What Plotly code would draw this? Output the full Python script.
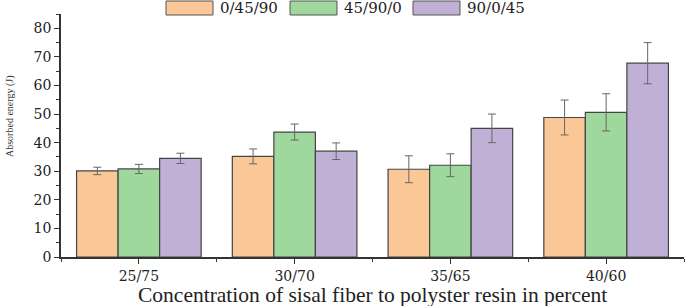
import plotly.graph_objects as go

categories = ["25/75", "30/70", "35/65", "40/60"]
series_names = ["0/45/90", "45/90/0", "90/0/45"]
s1_values = [30.1, 35.2, 30.7, 48.8]
s1_errors = [1.3, 2.6, 4.7, 6.1]
s2_values = [30.8, 43.7, 32.1, 50.6]
s2_errors = [1.6, 2.8, 4.0, 6.5]
s3_values = [34.5, 37.0, 45.0, 67.8]
s3_errors = [1.8, 2.9, 5.0, 7.2]
colors = ["#FAC896", "#9FD89C", "#C1B0D6"]
x_title = "Concentration of sisal fiber to polyster resin in percent"
y_title = "Absorbed energy (J)"

values = [s1_values, s2_values, s3_values]
errors = [s1_errors, s2_errors, s3_errors]
xpos = list(range(len(categories)))

fig = go.Figure()
for name, v, e, c in zip(series_names, values, errors, colors):
    fig.add_trace(go.Bar(
        x=xpos, y=v, name=name,
        marker=dict(color=c, line=dict(color="#444444", width=1.2)),
        error_y=dict(type="data", array=e, color="#666666", thickness=1, width=4),
        showlegend=False,
    ))

W, H = 685, 306
L, R, T, B = 61, 1, 14, 49
pw, ph = W - L - R, H - T - B

def px_x(px):
    return (px - L) / pw

def px_y(py):
    return (H - B - py) / ph

# custom legend with wide swatches
sw_left = [166, 290, 413]
for name, c, x0 in zip(series_names, colors, sw_left):
    fig.add_shape(type="rect", xref="paper", yref="paper",
                  x0=px_x(x0), x1=px_x(x0 + 47), y0=px_y(15), y1=px_y(1),
                  fillcolor=c, line=dict(color="#555555", width=1))
    fig.add_annotation(x=px_x(x0 + 52), y=px_y(8), xref="paper", yref="paper",
                       text=name, showarrow=False, xanchor="left", yanchor="middle",
                       font=dict(family="DejaVu Serif", size=15, color="#222222"))

fig.add_annotation(x=px_x(10), y=px_y(117), xref="paper", yref="paper",
                   text=y_title, showarrow=False, textangle=-90,
                   xanchor="center", yanchor="middle",
                   font=dict(family="Liberation Serif", size=10, color="#333333"))

fig.add_annotation(x=px_x(372), y=px_y(295), xref="paper", yref="paper",
                   text=x_title, showarrow=False,
                   xanchor="center", yanchor="middle",
                   font=dict(family="Liberation Serif", size=21.5, color="#222222"))

fig.update_layout(
    width=W, height=H,
    margin=dict(l=L, r=R, t=T, b=B),
    paper_bgcolor="white", plot_bgcolor="white",
    barmode="group", bargap=0.2, bargroupgap=0,
    xaxis=dict(
        range=[-0.5, 3.5], tickmode="array", tickvals=xpos, ticktext=categories,
        showline=True, linecolor="#333333", linewidth=1.5, automargin=False,
        ticks="outside", ticklen=5, tickcolor="#333333", showgrid=False, zeroline=False,
        tickfont=dict(family="DejaVu Serif", size=14, color="#222222"),
        minor=dict(tickmode="linear", tick0=0.5, dtick=1, ticks="outside", ticklen=3, tickcolor="#333333"),
    ),
    yaxis=dict(
        range=[0, 85], tickmode="linear", tick0=0, dtick=10,
        showline=True, linecolor="#333333", linewidth=1.5, automargin=False,
        ticks="outside", ticklen=5, tickcolor="#333333", showgrid=False, zeroline=False,
        tickfont=dict(family="DejaVu Serif", size=14, color="#222222"),
        minor=dict(tickmode="linear", tick0=5, dtick=10, ticks="outside", ticklen=3, tickcolor="#333333"),
    ),
)

fig.write_html(
    "out.html",
    config={"displayModeBar": False},
    post_script="document.body.style.margin='0';document.body.style.padding='0';document.body.style.overflow='hidden';",
)
